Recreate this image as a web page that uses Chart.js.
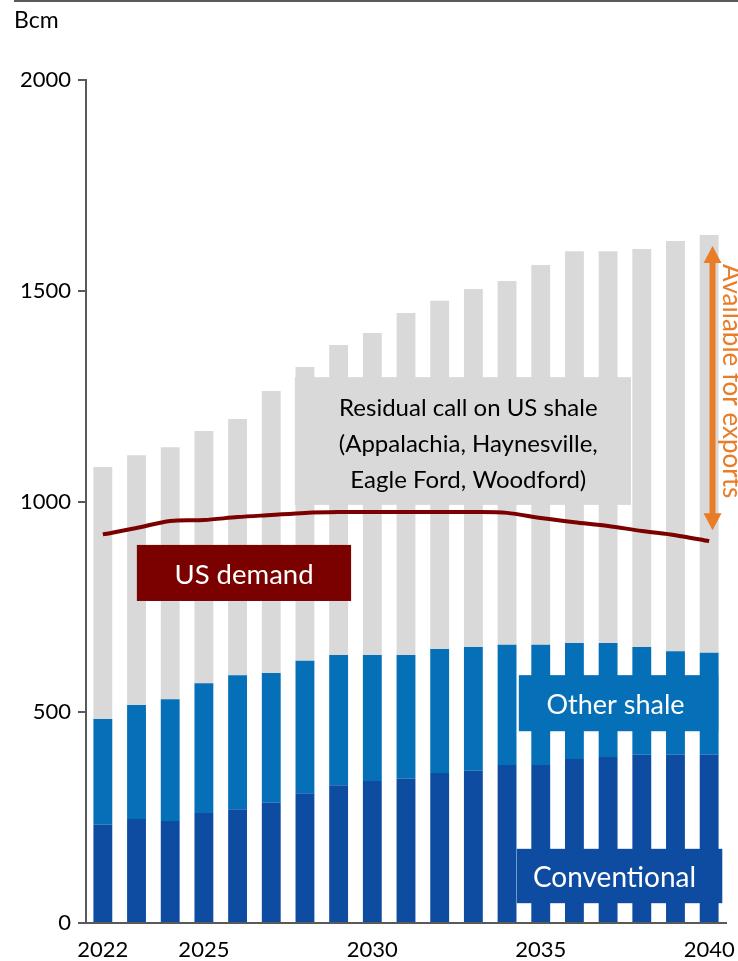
<!DOCTYPE html>
<html lang="en">
<head>
<meta charset="UTF-8">
<title>US gas supply and demand</title>
<script src="https://cdn.jsdelivr.net/npm/chart.js"></script>
<style>
  html, body { margin: 0; padding: 0; background: #fff; }
</style>
</head>
<body>
<canvas id="supplyChart" width="738" height="961"></canvas>
<script>
// Bcm per year
const years = ['2022', '2023', '2024', '2025', '2026', '2027', '2028', '2029', '2030', '2031',
               '2032', '2033', '2034', '2035', '2036', '2037', '2038', '2039', '2040'];
const shownYears = ['2022', '2025', '2030', '2035', '2040'];
const conventional = [233, 247, 242, 261, 270, 285, 308, 327, 337, 342, 356, 361, 375, 375, 389, 394, 399, 399, 399];
const otherShale = [251, 270, 289, 308, 318, 308, 314, 309, 299, 294, 294, 294, 285, 285, 275, 270, 256, 246, 242];
const residualShale = [598, 593, 598, 598, 608, 669, 697, 735, 764, 811, 826, 849, 863, 901, 930, 930, 944, 973, 991];
const usDemand = [922, 937, 954, 956, 963, 968, 973, 975, 975, 975, 975, 975, 973, 961, 951, 942, 930, 920, 906];

const FONT = 'Lato, "Open Sans", sans-serif';
const AXIS = '#595959';
const DARK_BLUE = '#0E4CA2';
const MID_BLUE = '#0570B7';
const GREY = '#D9D9D9';
const MAROON = '#7B0000';
const ORANGE = '#E97C26';

// callout boxes, placed in category index / Bcm units
const callouts = [
  { x0: 1.01, x1: 7.37, y0: 764, y1: 897, fill: MAROON, color: '#fff', size: 27.5, cx: 4.19,
    lines: ['US demand'] },
  { x0: 5.70, x1: 15.68, y0: 992, y1: 1295, fill: GREY, color: '#000', size: 24, cx: 10.85,
    lines: ['Residual call on US shale', '(Appalachia, Haynesville,', 'Eagle Ford, Woodford)'] },
  { x0: 12.35, x1: 18.27, y0: 455, y1: 588, fill: MID_BLUE, color: '#fff', size: 27, cx: 15.22,
    lines: ['Other shale'] },
  { x0: 12.29, x1: 18.39, y0: 47, y1: 176, fill: DARK_BLUE, color: '#fff', size: 28, cx: 15.19,
    lines: ['Conventional'] }
];

const decorations = {
  id: 'decorations',
  afterDatasetsDraw(chart) {
    const { ctx } = chart;
    const xs = chart.scales.x, ys = chart.scales.y;
    ctx.save();

    // rule across the top and unit label
    ctx.fillStyle = AXIS;
    ctx.fillRect(14, 0, 724, 2);
    ctx.fillStyle = '#000';
    ctx.font = '23px ' + FONT;
    ctx.textAlign = 'left';
    ctx.textBaseline = 'alphabetic';
    ctx.fillText('Bcm', 14, 28);

    callouts.forEach(c => {
      const left = xs.getPixelForValue(c.x0), right = xs.getPixelForValue(c.x1);
      const top = ys.getPixelForValue(c.y1), bottom = ys.getPixelForValue(c.y0);
      ctx.fillStyle = c.fill;
      ctx.fillRect(left, top, right - left, bottom - top);
      ctx.fillStyle = c.color;
      ctx.font = c.size + 'px ' + FONT;
      ctx.textAlign = 'center';
      const mid = (top + bottom) / 2;
      const step = 36;
      c.lines.forEach((line, i) => {
        const base = mid + 11 + (i - (c.lines.length - 1) / 2) * step;
        ctx.fillText(line, xs.getPixelForValue(c.cx), base);
      });
    });

    // double-headed arrow for export volume
    const ax = xs.getPixelForValue(18.1);
    const aTop = ys.getPixelForValue(1606), aBot = ys.getPixelForValue(932);
    const head = 17, half = 9;
    ctx.fillStyle = ORANGE;
    ctx.fillRect(ax - 3, aTop + head - 1, 6, aBot - aTop - 2 * head + 2);
    ctx.beginPath();
    ctx.moveTo(ax, aTop); ctx.lineTo(ax + half, aTop + head); ctx.lineTo(ax - half, aTop + head);
    ctx.closePath(); ctx.fill();
    ctx.beginPath();
    ctx.moveTo(ax, aBot); ctx.lineTo(ax + half, aBot - head); ctx.lineTo(ax - half, aBot - head);
    ctx.closePath(); ctx.fill();

    ctx.translate(ax + 10, (aTop + aBot) / 2 - 7);
    ctx.rotate(Math.PI / 2);
    ctx.font = '26px ' + FONT;
    ctx.textAlign = 'center';
    ctx.textBaseline = 'alphabetic';
    ctx.fillText('Available for exports', 0, 0);
    ctx.restore();
  }
};

new Chart(document.getElementById('supplyChart'), {
  data: {
    labels: years,
    datasets: [
      { type: 'line', label: 'US demand', data: usDemand, stack: 'demand', order: 0,
        borderColor: MAROON, borderWidth: 4, pointRadius: 0, tension: 0.3 },
      { type: 'bar', label: 'Conventional', data: conventional, stack: 'supply', order: 1,
        backgroundColor: DARK_BLUE },
      { type: 'bar', label: 'Other shale', data: otherShale, stack: 'supply', order: 1,
        backgroundColor: MID_BLUE },
      { type: 'bar', label: 'Residual call on US shale', data: residualShale, stack: 'supply', order: 1,
        backgroundColor: GREY }
    ]
  },
  options: {
    responsive: false,
    animation: false,
    devicePixelRatio: 1,
    layout: { padding: { top: 80, right: 12, left: 0, bottom: 0 } },
    datasets: { bar: { barPercentage: 0.56, categoryPercentage: 1 } },
    plugins: { legend: { display: false }, tooltip: { enabled: false } },
    scales: {
      x: {
        stacked: true,
        grid: { display: false, drawTicks: false },
        border: { color: AXIS, width: 2 },
        ticks: {
          autoSkip: false, maxRotation: 0, padding: 14, color: '#000',
          font: { family: FONT, size: 22 },
          callback: (v, i) => shownYears.includes(years[i]) ? years[i] : ''
        },
        afterFit: s => { s.height = 38; s.paddingLeft = 0; s.paddingRight = 0; }
      },
      y: {
        stacked: true,
        min: 0, max: 2000,
        grid: { drawOnChartArea: false, drawTicks: true, tickLength: 8, color: AXIS, lineWidth: 2 },
        border: { color: AXIS, width: 2 },
        ticks: { stepSize: 500, padding: 7, color: '#000', font: { family: FONT, size: 22 },
                 callback: v => String(v) },
        afterFit: s => { s.width = 86; }
      }
    }
  },
  plugins: [decorations]
});
</script>
</body>
</html>
